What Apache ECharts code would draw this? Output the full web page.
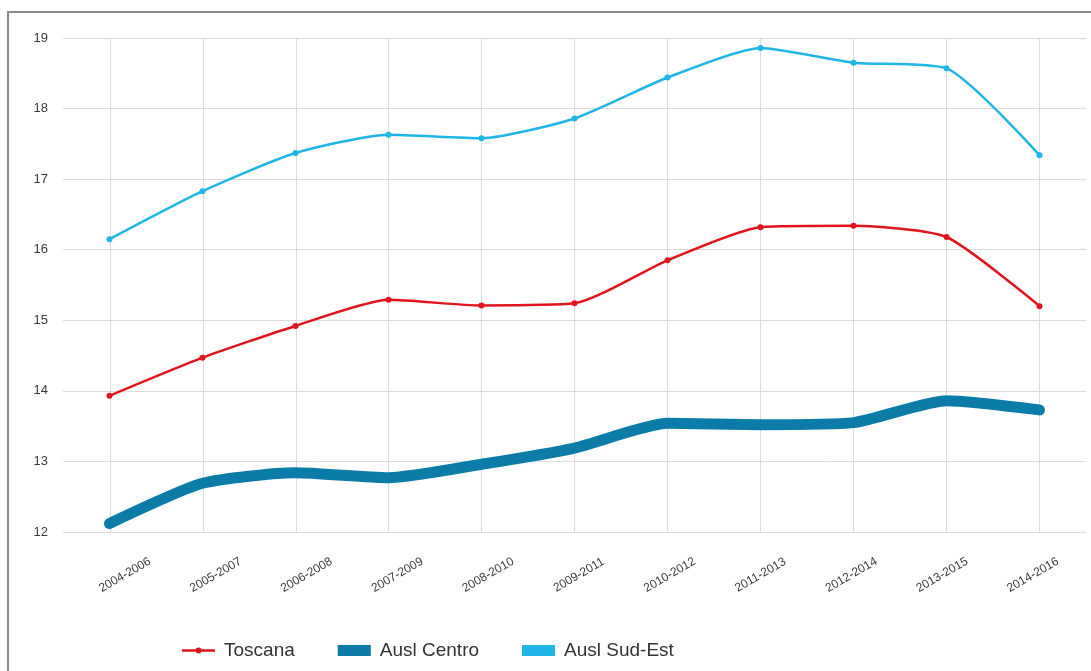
<!DOCTYPE html>
<html>
<head>
<meta charset="utf-8">
<title>Toscana, Ausl Centro, Ausl Sud-Est 2004-2016</title>
<script src="https://cdn.jsdelivr.net/npm/echarts@6/dist/echarts.min.js"></script>
<style>
  html, body { margin: 0; padding: 0; background: #ffffff; }
  #chart { width: 1091px; height: 671px; }
</style>
</head>
<body>
<div id="chart"></div>
<script>
// Three-year periods on the x axis
const periods = ['2004-2006', '2005-2007', '2006-2008', '2007-2009', '2008-2010', '2009-2011',
                 '2010-2012', '2011-2013', '2012-2014', '2013-2015', '2014-2016'];

// Series values per period
const toscana    = [13.93, 14.47, 14.92, 15.29, 15.21, 15.24, 15.85, 16.32, 16.34, 16.18, 15.20];
const auslCentro = [12.12, 12.69, 12.84, 12.77, 12.96, 13.19, 13.54, 13.52, 13.55, 13.86, 13.73];
const auslSudEst = [16.15, 16.83, 17.37, 17.63, 17.58, 17.86, 18.44, 18.86, 18.65, 18.57, 17.34];

// Y axis range
const yMin = 12, yMax = 19, yStep = 1;

const RED = '#e0141c';
const CENTRO = '#0b7ca8';
const SUDEST = '#1fb5e6';
const GRID_LINE = '#dcdcdc';
const FONT = 'Liberation Sans, Arial, sans-serif';
const SMOOTH = 0.2;

// legend icon for the thin line series: a thin stroke with a small dot
const LINE_DOT_ICON = 'path://M0,2.3 L33,2.3 L33,4.7 L0,4.7 Z M16.5,0.6 A2.9,2.9 0 1,1 16.49,0.6 Z';

const chart = echarts.init(document.getElementById('chart'), null, { renderer: 'canvas' });

chart.setOption({
  backgroundColor: '#ffffff',
  animation: false,
  textStyle: { fontFamily: FONT },
  graphic: [{
    type: 'rect',
    shape: { x: 8, y: 12, width: 1200, height: 800 },
    style: { fill: 'none', stroke: '#8a8a8a', lineWidth: 2 },
    silent: true,
    z: 100
  }],
  grid: [
    // plot area: horizontal grid lines, y labels, series
    { left: 63, right: 5, top: 38, bottom: 139 },
    // vertical grid lines at each period
    { left: 110, right: 52, top: 38, bottom: 139 },
    // rotated period labels
    { left: 125, right: 58, top: 38, bottom: 139 }
  ],
  xAxis: [
    {
      type: 'category', gridIndex: 0, data: periods, boundaryGap: true,
      axisLine: { show: false }, axisTick: { show: false },
      axisLabel: { show: false }, splitLine: { show: false }
    },
    {
      type: 'category', gridIndex: 1, data: periods, boundaryGap: false,
      axisLine: { show: false }, axisTick: { show: false },
      axisLabel: { show: false },
      splitLine: { show: true, lineStyle: { color: GRID_LINE, width: 1 } }
    },
    {
      type: 'category', gridIndex: 2, data: periods, boundaryGap: false,
      axisLine: { show: false }, axisTick: { show: false },
      splitLine: { show: false },
      axisLabel: {
        show: true, interval: 0, rotate: 30, margin: 43,
        align: 'center', verticalAlign: 'middle',
        color: '#3a3a3a', fontSize: 12, fontFamily: FONT
      }
    }
  ],
  yAxis: [
    {
      type: 'value', gridIndex: 0, min: yMin, max: yMax, interval: yStep,
      axisLine: { show: false }, axisTick: { show: false },
      axisLabel: { color: '#3a3a3a', fontSize: 13, margin: 15, fontFamily: FONT },
      splitLine: { show: true, lineStyle: { color: GRID_LINE, width: 1 } }
    },
    {
      type: 'value', gridIndex: 1, min: yMin, max: yMax, interval: yStep,
      show: false, splitLine: { show: false }
    },
    {
      type: 'value', gridIndex: 2, min: yMin, max: yMax, interval: yStep,
      show: false, splitLine: { show: false }
    }
  ],
  legend: {
    left: 177, top: 636,
    itemWidth: 33, itemHeight: 11, itemGap: 43,
    symbolKeepAspect: true,
    textStyle: { fontSize: 19, color: '#333333', fontFamily: FONT, padding: [0, 0, 0, 4] },
    data: [
      { name: 'Toscana', icon: LINE_DOT_ICON },
      { name: 'Ausl Centro', icon: 'rect' },
      { name: 'Ausl Sud-Est', icon: 'rect' }
    ]
  },
  series: [
    {
      name: 'Ausl Centro', type: 'line', xAxisIndex: 0, yAxisIndex: 0,
      data: auslCentro, smooth: SMOOTH, symbol: 'none',
      color: CENTRO,
      lineStyle: { color: CENTRO, width: 11, cap: 'round', join: 'round' },
      z: 2
    },
    {
      name: 'Toscana', type: 'line', xAxisIndex: 0, yAxisIndex: 0,
      data: toscana, smooth: SMOOTH, symbol: 'circle', symbolSize: 6,
      color: RED,
      itemStyle: { color: RED },
      lineStyle: { color: RED, width: 2.5 },
      z: 3
    },
    {
      name: 'Ausl Sud-Est', type: 'line', xAxisIndex: 0, yAxisIndex: 0,
      data: auslSudEst, smooth: SMOOTH, symbol: 'circle', symbolSize: 6,
      color: SUDEST,
      itemStyle: { color: SUDEST },
      lineStyle: { color: SUDEST, width: 2.5 },
      z: 3
    }
  ]
});
</script>
</body>
</html>
